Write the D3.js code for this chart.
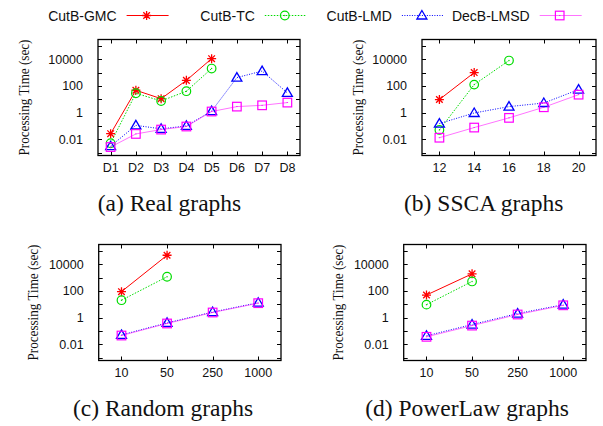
<!DOCTYPE html>
<html>
<head>
<meta charset="utf-8">
<script src="https://cdn.jsdelivr.net/npm/d3@7"></script>
<style>
  body { margin: 0; background: #fff; }
  text { fill: #111; }
</style>
</head>
<body>
<script>
// series names / colours
var seriesNames = ["CutB-GMC", "CutB-TC", "CutB-LMD", "DecB-LMSD"];
var seriesColors = ["#ff0000", "#00dd00", "#0000ff", "#ff00ff"];

// y tick labels (log scale)
var yTickLabels = [0.01, 1, 100, 10000];

// (a) Real graphs
var realCats = ["D1", "D2", "D3", "D4", "D5", "D6", "D7", "D8"];
var realGMC  = [0.026, 47, 11, 260, 11000];
var realTC   = [0.005, 28, 7.4, 40, 2000];
var realLMD  = [0.003, 0.11, 0.06, 0.1, 1.3, 420, 1300, 30];
var realLMSD = [0.0026, 0.025, 0.053, 0.09, 1.2, 2.8, 3.5, 5.6];

// (b) SSCA graphs
var sscaCats = [12, 14, 16, 18, 20];
var sscaGMC  = [9.5, 1000];
var sscaTC   = [0.05, 125, 8000];
var sscaLMD  = [0.15, 0.93, 2.8, 5.2, 53];
var sscaLMSD = [0.013, 0.075, 0.4, 2.5, 22];

// (c) Random graphs
var randCats = ["10", "50", "250", "1000"];
var randGMC  = [88, 47000];
var randTC   = [20, 1150];
var randLMD  = [0.05, 0.4, 2.6, 13];
var randLMSD = [0.045, 0.36, 2.4, 12];

// (d) PowerLaw graphs
var plCats = ["10", "50", "250", "1000"];
var plGMC  = [49, 1900];
var plTC   = [9.3, 510];
var plLMD  = [0.043, 0.3, 2.0, 9.3];
var plLMSD = [0.036, 0.25, 1.7, 8.3];

var w = 603, h = 426;
var svg = d3.select("body").append("svg")
    .attr("width", w)
    .attr("height", h);

var sansFont = "'Liberation Sans', Arial, sans-serif";
var serifFont = "'Liberation Serif', 'Times New Roman', serif";

// dash style per series
var dashes = [null, "1.5,1.5", "1,1.5", null];
var lineOpacity = [1, 1, 1, 0.55];

function drawMarker(g, type, x, y, color) {
  if (type == 0) {
    // star: + and x
    var r = 4.5, d = 3.3;
    var p = "M" + (x - r) + "," + y + "H" + (x + r) +
            "M" + x + "," + (y - r) + "V" + (y + r) +
            "M" + (x - d) + "," + (y - d) + "L" + (x + d) + "," + (y + d) +
            "M" + (x - d) + "," + (y + d) + "L" + (x + d) + "," + (y - d);
    g.append("path").attr("d", p).attr("stroke", color).attr("stroke-width", 1.3).attr("fill", "none");
  } else if (type == 1) {
    g.append("circle").attr("cx", x).attr("cy", y).attr("r", 4.3)
      .attr("fill", "none").attr("stroke", color).attr("stroke-width", 1.2);
    g.append("circle").attr("cx", x).attr("cy", y).attr("r", 0.7).attr("fill", color);
  } else if (type == 2) {
    var s = 5;
    g.append("path")
      .attr("d", "M" + x + "," + (y - s) + "L" + (x + s) + "," + (y + s * 0.7) + "L" + (x - s) + "," + (y + s * 0.7) + "Z")
      .attr("fill", "none").attr("stroke", color).attr("stroke-width", 1.3);
  } else {
    var q = 4.3;
    g.append("rect").attr("x", x - q).attr("y", y - q).attr("width", 2 * q).attr("height", 2 * q)
      .attr("fill", "none").attr("stroke", color).attr("stroke-width", 1.2);
    g.append("rect").attr("x", x - 0.7).attr("y", y - 0.4).attr("width", 1.4).attr("height", 0.8).attr("fill", color);
  }
}

function panel(opt) {
  var g = svg.append("g");
  var x0 = opt.left, x1 = opt.right, y0 = opt.top, y1 = opt.top + 116;

  var y = d3.scaleLog().domain([Math.pow(10, -3.22), Math.pow(10, 5.48)]).range([y1, y0]);
  var x;
  if (opt.kind == "linear") {
    x = d3.scaleLinear().domain(opt.domain).range([x0, x1]);
  } else {
    x = d3.scalePoint().domain(opt.cats).range([x0, x1]).padding(0.5);
  }
  var xPos = function(c) { return x(c); };
  var xLabel = opt.labels || function(d) { return d; };

  // decade ticks, left and right
  var decades = d3.range(-3, 6).map(function(e) { return Math.pow(10, e); });
  g.selectAll(".yt").data(decades).enter().append("path")
    .attr("d", function(d) {
      var yy = Math.round(y(d)) + 0.5;
      return "M" + x0 + "," + yy + "h4M" + x1 + "," + yy + "h-4";
    })
    .attr("stroke", "#000").attr("stroke-width", 1);

  // x ticks, bottom and top
  g.selectAll(".xt").data(opt.cats).enter().append("path")
    .attr("d", function(d) {
      var xx = Math.round(xPos(d)) + 0.5;
      return "M" + xx + "," + y1 + "v-4M" + xx + "," + y0 + "v4";
    })
    .attr("stroke", "#000").attr("stroke-width", 1);

  // y tick labels
  g.selectAll(".yl").data(yTickLabels).enter().append("text")
    .attr("x", x0 - 15)
    .attr("y", function(d) { return y(d); })
    .attr("dy", "0.36em")
    .attr("text-anchor", "end")
    .attr("font-family", sansFont)
    .attr("font-size", 12.5)
    .text(function(d) { return d; });

  // x tick labels
  g.selectAll(".xl").data(opt.cats).enter().append("text")
    .attr("x", function(d) { return xPos(d); })
    .attr("y", y1 + 16.5)
    .attr("text-anchor", "middle")
    .attr("font-family", sansFont)
    .attr("font-size", 12.5)
    .text(function(d, i) { return xLabel(d, i); });

  // y axis title
  g.append("text")
    .attr("transform", "translate(" + opt.ytx + "," + (y0 + 58) + ") rotate(-90)")
    .attr("text-anchor", "middle")
    .attr("font-family", serifFont)
    .attr("font-size", 15.5)
    .attr("textLength", 116)
    .attr("lengthAdjust", "spacingAndGlyphs")
    .text("Processing Time (sec)");

  // series
  var line = d3.line()
    .x(function(d) { return xPos(d.c); })
    .y(function(d) { return y(d.v); });

  opt.series.forEach(function(vals, i) {
    var pts = vals.map(function(v, k) { return { c: opt.cats[k], v: v }; });
    g.append("path")
      .attr("d", line(pts))
      .attr("fill", "none")
      .attr("stroke", seriesColors[i])
      .attr("stroke-opacity", lineOpacity[i])
      .attr("stroke-width", 1)
      .attr("stroke-dasharray", dashes[i]);
  });
  opt.series.forEach(function(vals, i) {
    vals.forEach(function(v, k) {
      drawMarker(g, i, xPos(opt.cats[k]), y(v), seriesColors[i]);
    });
  });

  // frame
  g.append("rect")
    .attr("x", x0).attr("y", y0)
    .attr("width", x1 - x0).attr("height", y1 - y0)
    .attr("fill", "none").attr("stroke", "#000").attr("stroke-width", 1.3);

  // caption
  g.append("text")
    .attr("x", opt.capX)
    .attr("y", y1 + 55)
    .attr("text-anchor", "middle")
    .attr("font-family", serifFont)
    .attr("font-size", 23.5)
    .text(opt.caption);
}

panel({ kind: "linear", cats: [1, 2, 3, 4, 5, 6, 7, 8], domain: [0.5, 8.5], left: 98, right: 300, top: 39.5,
        labels: function(d, i) { return realCats[i]; },
        ytx: 28.5, capX: 169.5, caption: "(a) Real graphs",
        series: [realGMC, realTC, realLMD, realLMSD] });

panel({ kind: "linear", cats: sscaCats, domain: [11, 21], left: 422, right: 596, top: 39.5,
        ytx: 362.5, capX: 483.7, caption: "(b) SSCA graphs",
        series: [sscaGMC, sscaTC, sscaLMD, sscaLMSD] });

panel({ kind: "point", cats: randCats, left: 98.7, right: 281, top: 244.5,
        ytx: 37.5, capX: 163, caption: "(c) Random graphs",
        series: [randGMC, randTC, randLMD, randLMSD] });

panel({ kind: "point", cats: plCats, left: 403.7, right: 586, top: 244.5,
        ytx: 342.5, capX: 467, caption: "(d) PowerLaw graphs",
        series: [plGMC, plTC, plLMD, plLMSD] });

// legend
var legendTextEnd = [116.6, 254.8, 391.9, 529.7];
var legend = svg.append("g");
seriesNames.forEach(function(name, i) {
  var tx = legendTextEnd[i];
  var ly = 15.5;
  legend.append("text")
    .attr("x", tx).attr("y", ly).attr("dy", "0.36em")
    .attr("text-anchor", "end")
    .attr("font-family", sansFont)
    .attr("font-size", 14)
    .text(name);
  legend.append("path")
    .attr("d", "M" + (tx + 10) + "," + ly + "H" + (tx + 52))
    .attr("stroke", seriesColors[i])
    .attr("stroke-opacity", lineOpacity[i])
    .attr("stroke-width", 1)
    .attr("stroke-dasharray", dashes[i])
    .attr("fill", "none");
  drawMarker(legend, i, tx + 30, ly, seriesColors[i]);
});
</script>
</body>
</html>
